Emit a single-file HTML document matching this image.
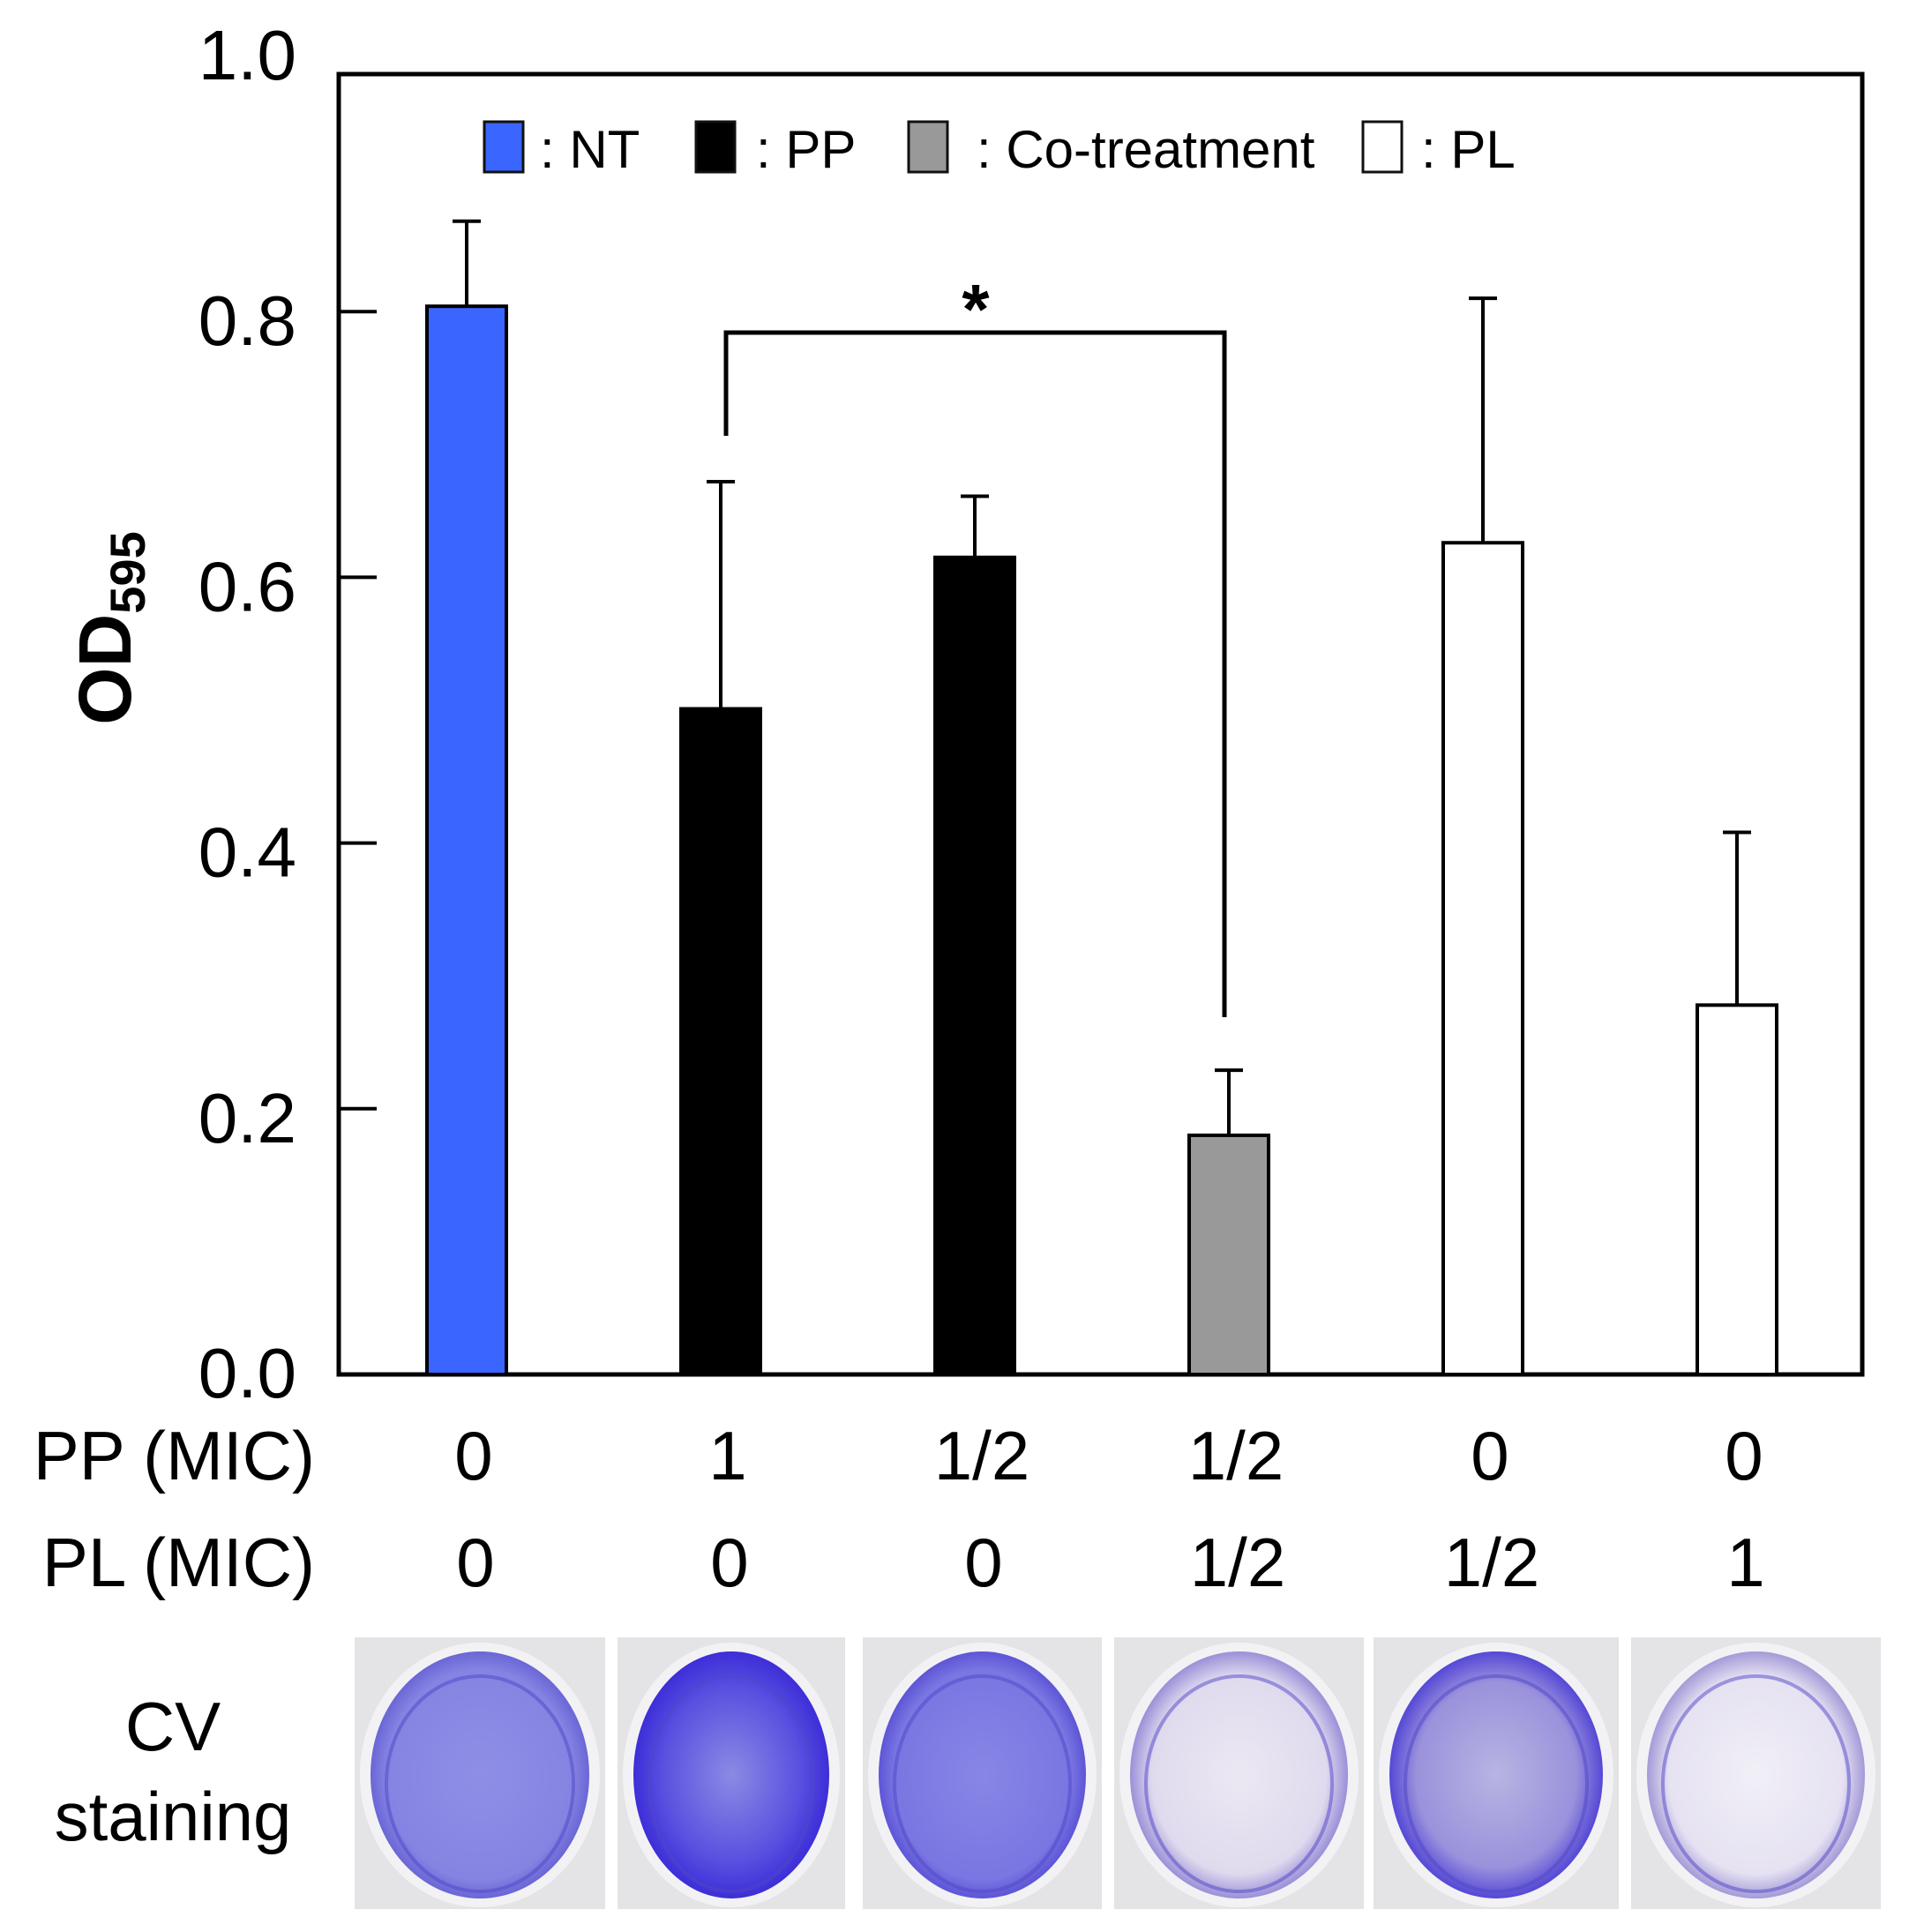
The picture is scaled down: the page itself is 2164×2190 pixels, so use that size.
<!DOCTYPE html>
<html><head><meta charset="utf-8"><style>
html,body{margin:0;padding:0;background:#fff;}
svg{display:block;font-family:"Liberation Sans",sans-serif;}
</style></head><body>
<svg id="chart" width="2164" height="2190" viewBox="0 0 2164 2190" xmlns="http://www.w3.org/2000/svg">
<defs>
<radialGradient id="g1" cx="50%" cy="50%" r="50%"><stop offset="0" stop-color="#8f8ee6"/><stop offset="0.85" stop-color="#8584e2"/><stop offset="1" stop-color="#6a66d6"/></radialGradient>
<radialGradient id="g2" cx="50%" cy="50%" r="50%"><stop offset="0" stop-color="#8c8ae4"/><stop offset="0.7" stop-color="#5a50e0"/><stop offset="1" stop-color="#3d2ed8"/></radialGradient>
<radialGradient id="g3" cx="50%" cy="50%" r="50%"><stop offset="0" stop-color="#8886e6"/><stop offset="0.85" stop-color="#7a76e2"/><stop offset="1" stop-color="#5d55d6"/></radialGradient>
<radialGradient id="g4" cx="50%" cy="50%" r="50%"><stop offset="0" stop-color="#ece8f2"/><stop offset="0.8" stop-color="#e0daee"/><stop offset="1" stop-color="#9a90d8"/></radialGradient>
<radialGradient id="g5" cx="50%" cy="50%" r="50%"><stop offset="0" stop-color="#b8b4e2"/><stop offset="0.75" stop-color="#9a92dc"/><stop offset="1" stop-color="#5548d6"/></radialGradient>
<radialGradient id="g6" cx="50%" cy="50%" r="50%"><stop offset="0" stop-color="#f1eff6"/><stop offset="0.8" stop-color="#e6e2f2"/><stop offset="1" stop-color="#a49ad8"/></radialGradient>
</defs>
<g id="plot"></g>
</svg>
<script>
const categories = ["NT","PP 1","PP 1/2","Co-treatment","PL 1/2","PL 1"];
const values = [0.804, 0.501, 0.615, 0.180, 0.626, 0.278];
const errors = [0.064, 0.171, 0.046, 0.049, 0.184, 0.130];
const ppLabels = ["0","1","1/2","1/2","0","0"];
const plLabels = ["0","0","0","1/2","1/2","1"];
const yTicks = [0.0, 0.2, 0.4, 0.6, 0.8, 1.0];
const fills = ["#3a66ff","#000000","#000000","#999999","#ffffff","#ffffff"];
const NS = "http://www.w3.org/2000/svg";
const g = document.getElementById('plot');
const X0 = 384, X1 = 2111, Y0 = 1558, YTOP = 84;
const yScale = v => Y0 - v * 1506;
const xCenter = i => 529 + i * 288;
const BW = 90;
function mk(tag, attrs, parent) {
  const e = document.createElementNS(NS, tag);
  for (const k in attrs) e.setAttribute(k, attrs[k]);
  (parent || g).appendChild(e);
  return e;
}
const frame = mk('rect', {x:X0, y:YTOP, width:X1-X0, height:Y0-YTOP, fill:'none', stroke:'#000', 'stroke-width':5});


yTicks.forEach(t => {
  const y = yScale(t);
  if (t > 0 && t < 1) {
    const tk = mk('line', {x1:X0, x2:X0+43, y1:y, y2:y, stroke:'#000', 'stroke-width':4});
    
    
  }
  const lb = mk('text', {x:336, y:y + (t === 0 ? 26 : 38), 'font-size':80, 'text-anchor':'end', fill:'#000'});
  lb.textContent = t.toFixed(1);
  
  
});
const yt = mk('text', {x:0, y:0, 'font-size':84, 'font-weight':'bold', 'text-anchor':'middle', transform:'translate(148,712) rotate(-90)'});
yt.innerHTML = 'OD<tspan font-size="56" dy="16">595</tspan>';


values.forEach((v, i) => {
  const cx = xCenter(i), top = yScale(v), et = yScale(v + errors[i]);
  const eb = mk('line', {x1:cx, x2:cx, y1:et, y2:top, stroke:'#000', 'stroke-width':4});
  
  
  const cap = mk('line', {x1:cx-16, x2:cx+16, y1:et, y2:et, stroke:'#000', 'stroke-width':4});
  
  
  const b = mk('rect', {x:cx-BW/2, y:top, width:BW, height:Y0-top, fill:fills[i], stroke:'#000', 'stroke-width':4});
  
  
  const p = mk('text', {x:cx + 8, y:1677, 'font-size':78, 'text-anchor':'middle'});
  p.textContent = ppLabels[i];
  
  
  const q = mk('text', {x:cx + 10, y:1798, 'font-size':78, 'text-anchor':'middle'});
  q.textContent = plLabels[i];
  
  
});
const br = mk('polyline', {points:`${xCenter(1)+6},494 ${xCenter(1)+6},377 ${xCenter(3)-5},377 ${xCenter(3)-5},1153`, fill:'none', stroke:'#000', 'stroke-width':5});


const st = mk('text', {x:1106, y:378, 'font-size':80, 'font-weight':'bold', 'text-anchor':'middle'});
st.textContent = '*';


const legend = [[549,'#3a66ff',612,': NT'],[789,'#000',857,': PP'],[1030,'#999',1107,': Co-treatment'],[1545,'#fff',1611,': PL']];
legend.forEach(l => {
  const r = mk('rect', {x:l[0], y:138, width:44, height:57, fill:l[1], stroke:'#111', 'stroke-width':3});
  
  
  const t = mk('text', {x:l[2], y:190, 'font-size':60});
  t.textContent = l[3];
  
  
});
[['PP (MIC)',1677,'pp-row-label',357,'end'],['PL (MIC)',1798,'pl-row-label',357,'end'],['CV',1984,'cv-label',196,'middle'],['staining',2086,'staining-label',196,'middle']].forEach(r => {
  const t = mk('text', {x:r[3], y:r[1], 'font-size':78, 'text-anchor':r[4]});
  t.textContent = r[0];
  
  
});
const wells = [[402,686],[700,958],[978,1249],[1263,1546],[1557,1835],[1849,2132]];
wells.forEach((w, i) => {
  const gw = mk('g', {});
  
  
  mk('rect', {x:w[0], y:1856, width:w[1]-w[0], height:308, fill:'#e4e4e6'}, gw);
  const cx = (w[0]+w[1])/2, rx = (w[1]-w[0])/2 - 12;
  mk('ellipse', {cx:cx, cy:2012, rx:rx+6, ry:150, fill:'#f2f2f4'}, gw);
  mk('ellipse', {cx:cx, cy:2012, rx:rx-6, ry:140, fill:'url(#g'+(i+1)+')'}, gw);
  mk('ellipse', {cx:cx, cy:2022, rx:rx-24, ry:122, fill:'none', stroke:'rgba(80,70,200,0.5)', 'stroke-width':4}, gw);
});
</script>
</body></html>
